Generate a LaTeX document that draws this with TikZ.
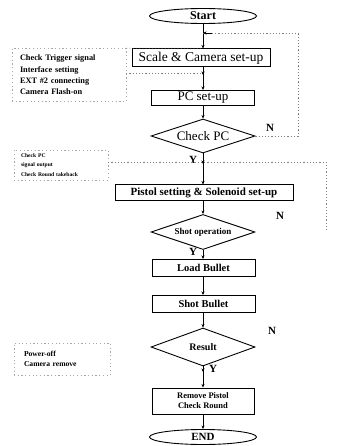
\documentclass[tikz,border=0pt]{standalone}
\usepackage{fontspec}
\setmainfont{Liberation Serif}
\usetikzlibrary{shapes.geometric,arrows.meta}

\begin{document}
\begin{tikzpicture}[x=1pt,y=-1pt,
  flow/.style={line width=0.5pt,-{Stealth[length=3.5pt,width=3pt]}},
  loopline/.style={line width=0.5pt,gray,dash pattern=on 1.2pt off 2pt},
  stepbox/.style={draw,line width=1pt,rectangle,inner sep=0pt,align=center,font=\bfseries},
  decision/.style={draw,line width=0.9pt,diamond,aspect=3,inner sep=0pt,font=\bfseries},
  terminal/.style={draw,line width=0.9pt,ellipse,inner sep=0pt,minimum width=107pt,minimum height=15pt,font=\bfseries},
  notebox/.style={draw=gray!70,line width=0.5pt,dash pattern=on 1.2pt off 2.5pt,rectangle,inner sep=0pt,align=left,font=\bfseries},
  branchlbl/.style={font=\bfseries\fontsize{11}{11}\selectfont,inner sep=0pt}
]
\useasboundingbox (0,0) rectangle (339,446);

% main column
\node[terminal,font=\bfseries\fontsize{12}{12}\selectfont] (start) at (203,16) {Start};
\node[stepbox,minimum width=138pt,minimum height=18pt,font=\fontsize{13.5}{14}\selectfont] (scale) at (201,58) {Scale \& Camera set-up};
\node[stepbox,minimum width=103pt,minimum height=15pt,font=\fontsize{13}{13}\selectfont] (pc) at (203,98) {PC set-up};
\node[decision,minimum width=104pt,minimum height=34pt,font=\fontsize{13}{13}\selectfont] (chkpc) at (203,136) {Check PC};
\node[stepbox,minimum width=178pt,minimum height=15pt,font=\bfseries\fontsize{11}{11}\selectfont] (pistol) at (204,192.5) {Pistol setting \& Solenoid set-up};
\node[decision,minimum width=104pt,minimum height=35pt,font=\bfseries\fontsize{9}{9}\selectfont] (shotop) at (203,232) {Shot operation};
\node[stepbox,minimum width=103pt,minimum height=17pt,font=\bfseries\fontsize{10.5}{10.5}\selectfont] (load) at (203.5,268) {Load Bullet};
\node[stepbox,minimum width=103pt,minimum height=17pt,font=\bfseries\fontsize{10.5}{10.5}\selectfont] (shotb) at (203.5,304) {Shot Bullet};
\node[decision,minimum width=104pt,minimum height=38pt,font=\bfseries\fontsize{10}{10}\selectfont] (result) at (203,347) {Result};
\node[stepbox,minimum width=102pt,minimum height=26pt,font=\bfseries\fontsize{8.5}{10}\selectfont] (remove) at (203,401) {Remove Pistol\\Check Round};
\node[terminal,font=\bfseries\fontsize{11}{11}\selectfont] (end) at (203,437) {END};

% main flow
\draw[flow] (start) -- (scale.north -| start.south);
\draw[flow] (scale.south -| pc.north) -- (pc);
\draw[flow] (pc) -- (chkpc);
\draw[flow] (chkpc) -- (pistol.north -| chkpc.south);
\draw[flow] (pistol.south -| shotop.north) -- (shotop);
\draw[flow] (shotop) -- (load.north -| shotop.south);
\draw[flow] (load.south -| shotop.south) -- (shotb.north -| shotop.south);
\draw[flow] (shotb.south -| result.north) -- (result);
\draw[flow] (result) -- (remove);
\draw[flow] (remove) -- (end);

% branch labels
\node[branchlbl] (n1) at (270,128) {N};
\node[branchlbl] (y1) at (193,160) {Y};
\node[branchlbl] (n2) at (280,216) {N};
\node[branchlbl] (y2) at (193,252) {Y};
\node[branchlbl] (n3) at (272,331) {N};
\node[branchlbl] (y3) at (213,369) {Y};

% retry loop back to the camera set-up
\coordinate (j1) at (203,33);
\coordinate (c1) at (298,136);
\draw[loopline] (chkpc.east) -- (c1) |- (j1);
\draw[flow] (212,33) -- (j1);

% preparation notes
\node[notebox,minimum width=114pt,minimum height=53pt,text width=98pt,font=\bfseries\fontsize{8.3}{11.4}\selectfont] (note1) at (69,75)
  {Check Trigger signal\\Interface setting\\EXT \#2 connecting\\Camera Flash-on};
\coordinate (j2) at (203,48);
\coordinate (j3) at (203,73);
\draw[loopline] (note1.north east) -- (j2);
\draw[loopline] (note1.east |- j3) -- (j3);
\draw[flow] (203,68) -- (203,75);

\node[notebox,minimum width=94pt,minimum height=30pt,text width=80pt,font=\bfseries\fontsize{5.6}{9.4}\selectfont] (note2) at (61,165)
  {Check PC\\signal output\\Check Round takeback};
\coordinate (j4) at (203,162);
\coordinate (c2) at (326,162);
\coordinate (c3) at (326,232);
\draw[loopline] (note2.east |- j4) -- (c2) -- (c3);
\draw[flow] (203,159) -- (203,164);

\node[notebox,minimum width=96pt,minimum height=32pt,text width=76pt,font=\bfseries\fontsize{7.6}{9.5}\selectfont] (note3) at (62,359)
  {Power-off\\Camera remove};
\draw[flow] (203,367) -- (203,372);
\end{tikzpicture}
\end{document}
